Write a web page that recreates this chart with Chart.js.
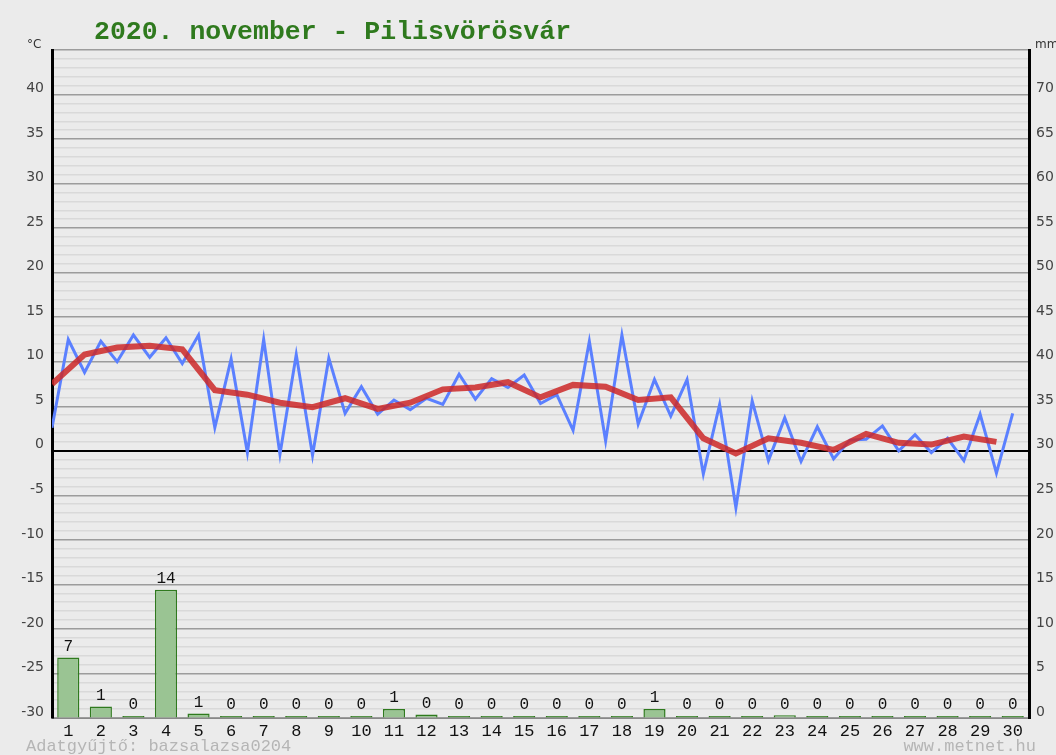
<!DOCTYPE html>
<html>
<head>
<meta charset="utf-8">
<script src="https://cdn.jsdelivr.net/npm/chart.js@4.4.1/dist/chart.umd.min.js"></script>
<style>
  html, body { margin: 0; padding: 0; background: #ebebeb; }
  #wrap { width: 1056px; height: 755px; }
</style>
</head>
<body>
<div id="wrap"><canvas id="chart" width="1056" height="755"></canvas></div>
<script>
const days = ['1','2','3','4','5','6','7','8','9','10','11','12','13','14','15',
              '16','17','18','19','20','21','22','23','24','25','26','27','28','29','30'];

// temperature readings, two per day (°C)
const tempReadings = [
    2.6, 12.5, 8.8, 12.3, 10.0, 13.0, 10.5, 12.7, 9.8, 13.0,
    2.6, 10.3, -0.2, 12.5, -0.4, 10.8, -0.5, 10.4, 4.2, 7.2,
    4.1, 5.7, 4.6, 5.9, 5.2, 8.6, 5.8, 8.1, 7.1, 8.5,
    5.3, 6.3, 2.3, 12.3, 1.1, 13.0, 3.0, 8.0, 3.9, 8.0,
    -2.6, 5.2, -6.4, 5.6, -1.1, 3.7, -1.2, 2.7, -0.9, 1.2,
    1.3, 2.8, 0.0, 1.8, -0.2, 1.4, -1.1, 4.1, -2.5, 4.2
];

// daily mean temperature (°C)
const tempDaily = [
    7.5, 10.8, 11.6, 11.8, 11.4, 6.8, 6.3, 5.4, 4.9, 5.9,
    4.7, 5.4, 6.9, 7.1, 7.7, 6.0, 7.4, 7.2, 5.7, 6.0,
    1.4, -0.3, 1.4, 0.9, 0.1, 1.9, 0.9, 0.7, 1.6, 1.0
];

// daily precipitation (mm)
const precip = [
    6.8, 1.3, 0, 14.4, 0.5, 0, 0, 0, 0, 0,
    1.0, 0.4, 0, 0, 0, 0.2, 0, 0, 1.0, 0,
    0, 0, 0.3, 0, 0, 0.2, 0, 0.2, 0, 0
];

const MONO = "'Liberation Mono', 'DejaVu Sans Mono', monospace";
const SANS = "'DejaVu Sans', sans-serif";

// numbers above the precipitation bars + the loose texts around the plot
const extraText = {
    id: 'extraText',
    afterDatasetsDraw(chart) {
        const ctx = chart.ctx;
        const meta = chart.getDatasetMeta(2);
        ctx.save();
        ctx.fillStyle = '#111';
        ctx.font = '16px ' + MONO;
        ctx.textAlign = 'center';
        ctx.textBaseline = 'bottom';
        meta.data.forEach((bar, i) => {
            ctx.fillText(String(Math.round(precip[i])), bar.x, bar.y - 3);
        });
        ctx.restore();
    },
    afterDraw(chart) {
        const ctx = chart.ctx;
        ctx.save();
        ctx.textBaseline = 'alphabetic';
        ctx.textAlign = 'left';

        ctx.fillStyle = '#2f7a1e';
        ctx.font = 'bold 26.5px ' + MONO;
        ctx.fillText('2020. november - Pilisvörösvár', 94, 39);

        ctx.fillStyle = '#333';
        ctx.font = '12px ' + SANS;
        ctx.fillText('°C', 27, 48);
        ctx.fillText('mm', 1035, 48);

        ctx.fillStyle = '#b5b5b5';
        ctx.font = '17px ' + MONO;
        ctx.fillText('Adatgyűjtő: bazsalazsa0204', 26, 751);
        ctx.textAlign = 'right';
        ctx.fillText('www.metnet.hu', 1036, 751);
        ctx.restore();
    }
};

new Chart(document.getElementById('chart'), {
    data: {
        labels: days,
        datasets: [
            {
                type: 'line',
                label: 'Napi átlag',
                data: tempDaily.map((v, i) => ({ x: i, y: v })),
                xAxisID: 'x2',
                yAxisID: 'y',
                borderColor: 'rgba(204, 40, 40, 0.85)',
                borderWidth: 6,
                pointRadius: 0,
                tension: 0,
                order: 0
            },
            {
                type: 'line',
                label: 'Hőmérséklet',
                data: tempReadings.map((v, i) => ({ x: i / 2, y: v })),
                xAxisID: 'x2',
                yAxisID: 'y',
                borderColor: '#5b80ff',
                borderWidth: 3,
                pointRadius: 0,
                tension: 0,
                order: 1
            },
            {
                type: 'bar',
                label: 'Csapadék',
                data: precip,
                xAxisID: 'x',
                yAxisID: 'y2',
                grouped: false,
                backgroundColor: (c) => (c.raw < 0.3 ? '#3f8a2c' : '#9ac493'),
                borderColor: '#2f7a1e',
                borderWidth: 1.5,
                borderSkipped: 'bottom',
                minBarLength: 2,
                barPercentage: 0.68,
                categoryPercentage: 1,
                order: 2
            }
        ]
    },
    options: {
        responsive: false,
        animation: false,
        events: [],
        layout: { padding: { top: 50, left: 0, right: 0, bottom: 0 } },
        plugins: {
            legend: { display: false },
            tooltip: { enabled: false }
        },
        scales: {
            x: {
                type: 'category',
                offset: true,
                grid: { display: false, drawTicks: false },
                border: { display: true, color: '#888', width: 1 },
                ticks: {
                    color: '#111',
                    font: { family: MONO, size: 17 },
                    padding: 3,
                    maxRotation: 0,
                    autoSkip: false
                },
                afterFit(scale) { scale.height = 37; }
            },
            x2: {
                type: 'linear',
                min: 0,
                max: 30,
                display: false
            },
            y: {
                position: 'left',
                min: -30,
                max: 45,
                grid: {
                    drawTicks: false,
                    color: (c) => c.tick.value === 0 ? '#000' : (c.tick.value % 5 === 0 ? '#9c9c9c' : '#d9d9d9'),
                    lineWidth: (c) => c.tick.value === 0 ? 2 : 1.5
                },
                border: { display: true, color: '#000', width: 3 },
                ticks: {
                    stepSize: 1,
                    autoSkip: false,
                    color: '#444',
                    font: { family: SANS, size: 14 },
                    padding: 8,
                    labelOffset: -6,
                    callback: (v) => (v % 5 === 0 && v < 45) ? String(v) : ''
                },
                afterFit(scale) { scale.width = 52; }
            },
            y2: {
                position: 'right',
                min: 0,
                max: 75,
                grid: { drawOnChartArea: false, drawTicks: false },
                border: { display: true, color: '#000', width: 3 },
                ticks: {
                    stepSize: 5,
                    autoSkip: false,
                    color: '#444',
                    font: { family: SANS, size: 14 },
                    padding: 7,
                    labelOffset: -6,
                    callback: (v) => v < 75 ? String(v) : ''
                },
                afterFit(scale) { scale.width = 27; }
            }
        }
    },
    plugins: [extraText]
});
</script>
</body>
</html>
